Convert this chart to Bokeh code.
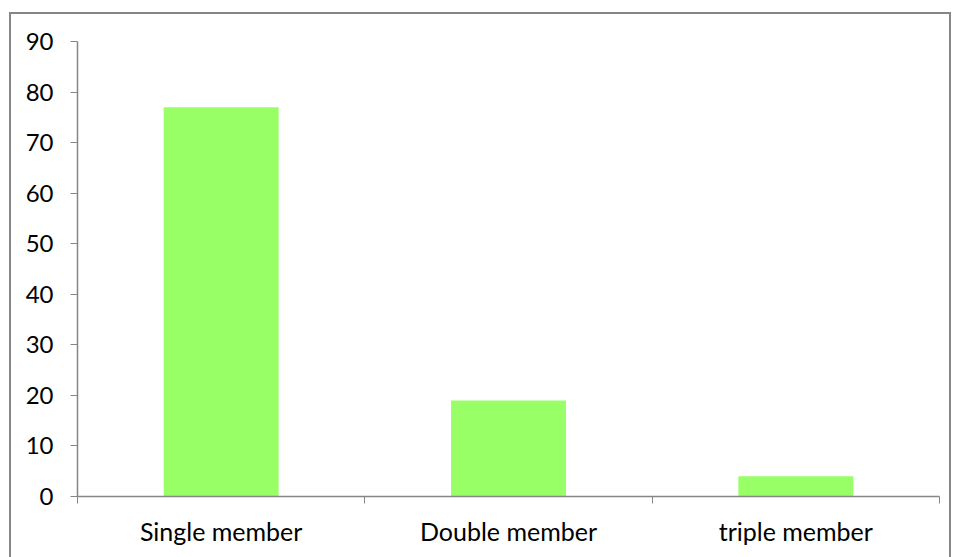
from bokeh.plotting import figure
from bokeh.models import Range1d, FixedTicker
from bokeh.embed import file_html
from bokeh.resources import INLINE

categories = ["Single member", "Double member", "triple member"]
values = [77, 19, 4]
y_ticks = [0, 10, 20, 30, 40, 50, 60, 70, 80, 90]

x_centers = [i + 0.5 for i in range(len(categories))]
boundaries = list(range(len(categories) + 1))

p = figure(width=942, height=545, output_backend="svg", toolbar_location=None,
           x_range=Range1d(0, len(categories)), y_range=Range1d(0, 90),
           min_border_left=66, min_border_right=14, min_border_top=27, min_border_bottom=63)
p.margin = (12, 9, 0, 9)
p.styles = {"border-top": "2px solid #868686", "border-left": "2px solid #868686",
            "border-right": "2px solid #868686", "box-sizing": "border-box"}
p.outline_line_color = None
p.xgrid.visible = False
p.ygrid.visible = False

p.vbar(x=x_centers, top=values, width=0.4, fill_color="#99FF66", line_color=None)

font = "Lato"
xa = p.xaxis[0]
xa.ticker = FixedTicker(ticks=x_centers, minor_ticks=boundaries)
xa.major_label_overrides = {c: lab for c, lab in zip(x_centers, categories)}
xa.major_tick_out = 0
xa.major_tick_in = 0
xa.minor_tick_out = 7
xa.minor_tick_in = 0
xa.minor_tick_line_color = "#868686"
xa.axis_line_color = "#868686"
xa.axis_line_width = 1.5
xa.major_label_text_font = font
xa.major_label_text_font_size = "25px"
xa.major_label_text_color = "#000000"
xa.major_label_standoff = 12

ya = p.yaxis[0]
ya.ticker = FixedTicker(ticks=y_ticks, minor_ticks=[])
ya.major_tick_out = 7
ya.major_tick_in = 0
ya.major_tick_line_color = "#868686"
ya.axis_line_color = "#868686"
ya.axis_line_width = 1.5
ya.major_label_text_font = font
ya.major_label_text_font_size = "24px"
ya.major_label_text_color = "#000000"
ya.major_label_standoff = 17

open("out.html", "w").write(file_html(p, INLINE))
